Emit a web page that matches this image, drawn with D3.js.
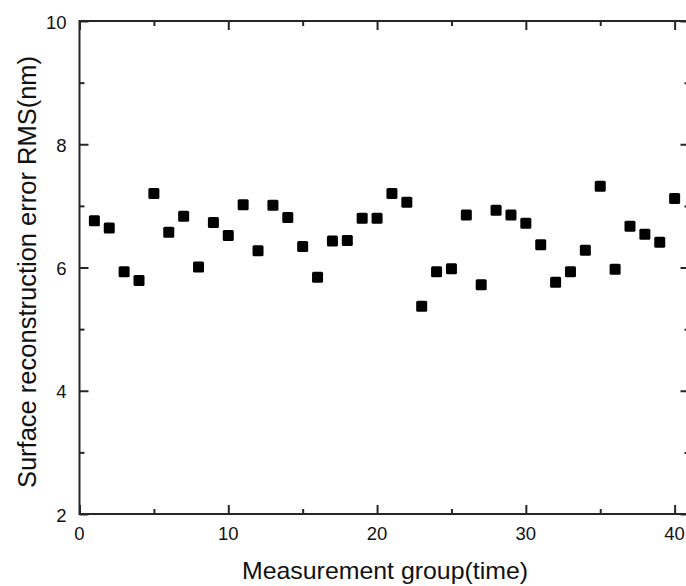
<!DOCTYPE html>
<html>
<head>
<meta charset="utf-8">
<script src="https://cdn.jsdelivr.net/npm/d3@7"></script>
<style>
  body { margin: 0; background: #fff; overflow: hidden; }
  text { font-family: "Liberation Sans", Arial, sans-serif; fill: #111; }
</style>
</head>
<body>
<svg id="chart" width="686" height="586"></svg>
<script>
// measurement number (1..40) and RMS error in nm
const groups = d3.range(1, 41);
const rms = [6.76, 6.64, 5.93, 5.79, 7.20, 6.57, 6.83, 6.01, 6.73, 6.52,
             7.02, 6.27, 7.01, 6.81, 6.34, 5.84, 6.43, 6.44, 6.80, 6.80,
             7.20, 7.06, 5.37, 5.93, 5.98, 6.85, 5.72, 6.93, 6.85, 6.72,
             6.37, 5.76, 5.93, 6.28, 7.32, 5.97, 6.67, 6.54, 6.41, 7.12];
const xTicks = [0, 10, 20, 30, 40];
const yTicks = [2, 4, 6, 8, 10];
const xMinor = [5, 15, 25, 35];
const yMinor = [3, 5, 7, 9];

// the right frame edge sits just outside the picture
const mLeft = 79.5, mRight = 689.5, mTop = 21, mBottom = 514;

const svg = d3.select('#chart');

const x = d3.scaleLinear().domain([0, 41]).range([mLeft, mRight]);
const y = d3.scaleLinear().domain([2, 10]).range([mBottom, mTop]);

const axisColor = '#262626';

// frame
svg.append('rect')
    .attr('x', mLeft).attr('y', mTop)
    .attr('width', mRight - mLeft).attr('height', mBottom - mTop)
    .attr('fill', 'none')
    .attr('stroke', axisColor)
    .attr('stroke-width', 2);

let tickLines = function (g) {
    g.select('.domain').remove();
    g.selectAll('.tick line').attr('stroke', axisColor).attr('stroke-width', 2);
    g.selectAll('.tick text').remove();
}

// ticks on all four sides, pointing inward
const major = 9, minor = 5;
svg.append('g').attr('transform', `translate(0,${mBottom})`)
    .call(d3.axisTop(x).tickValues(xTicks).tickSize(major)).call(tickLines);
svg.append('g').attr('transform', `translate(0,${mBottom})`)
    .call(d3.axisTop(x).tickValues(xMinor).tickSize(minor)).call(tickLines);
svg.append('g').attr('transform', `translate(0,${mTop})`)
    .call(d3.axisBottom(x).tickValues(xTicks).tickSize(major)).call(tickLines);
svg.append('g').attr('transform', `translate(0,${mTop})`)
    .call(d3.axisBottom(x).tickValues(xMinor).tickSize(minor)).call(tickLines);
svg.append('g').attr('transform', `translate(${mLeft},0)`)
    .call(d3.axisRight(y).tickValues(yTicks).tickSize(major)).call(tickLines);
svg.append('g').attr('transform', `translate(${mLeft},0)`)
    .call(d3.axisRight(y).tickValues(yMinor).tickSize(minor)).call(tickLines);
svg.append('g').attr('transform', `translate(${mRight},0)`)
    .call(d3.axisLeft(y).tickValues(yTicks).tickSize(major)).call(tickLines);
svg.append('g').attr('transform', `translate(${mRight},0)`)
    .call(d3.axisLeft(y).tickValues(yMinor).tickSize(minor)).call(tickLines);

// tick labels
svg.selectAll('text.xlab')
    .data(xTicks)
    .enter()
    .append('text')
    .attr('class', 'xlab')
    .attr('x', d => x(d))
    .attr('y', mBottom + 26)
    .attr('text-anchor', 'middle')
    .attr('font-size', 18.5)
    .text(d => d);

svg.selectAll('text.ylab')
    .data(yTicks)
    .enter()
    .append('text')
    .attr('class', 'ylab')
    .attr('x', mLeft - 13)
    .attr('y', d => y(d) + 1)
    .attr('dy', '0.36em')
    .attr('text-anchor', 'end')
    .attr('font-size', 18.5)
    .text(d => d);

// axis titles
svg.append('text')
    .attr('x', 385)
    .attr('y', 579)
    .attr('text-anchor', 'middle')
    .attr('font-size', 24)
    .attr('textLength', 286)
    .attr('lengthAdjust', 'spacingAndGlyphs')
    .text('Measurement group(time)');

svg.append('text')
    .attr('transform', 'translate(36,272) rotate(-90)')
    .attr('text-anchor', 'middle')
    .attr('font-size', 25.5)
    .text('Surface reconstruction error RMS(nm)');

// points
const s = 11;
svg.selectAll('rect.pt')
    .data(groups)
    .enter()
    .append('rect')
    .attr('class', 'pt')
    .attr('x', (d, i) => x(d) - s / 2)
    .attr('y', (d, i) => y(rms[i]) - s / 2)
    .attr('width', s)
    .attr('height', s)
    .attr('rx', 1.5)
    .attr('fill', '#000');
</script>
</body>
</html>
